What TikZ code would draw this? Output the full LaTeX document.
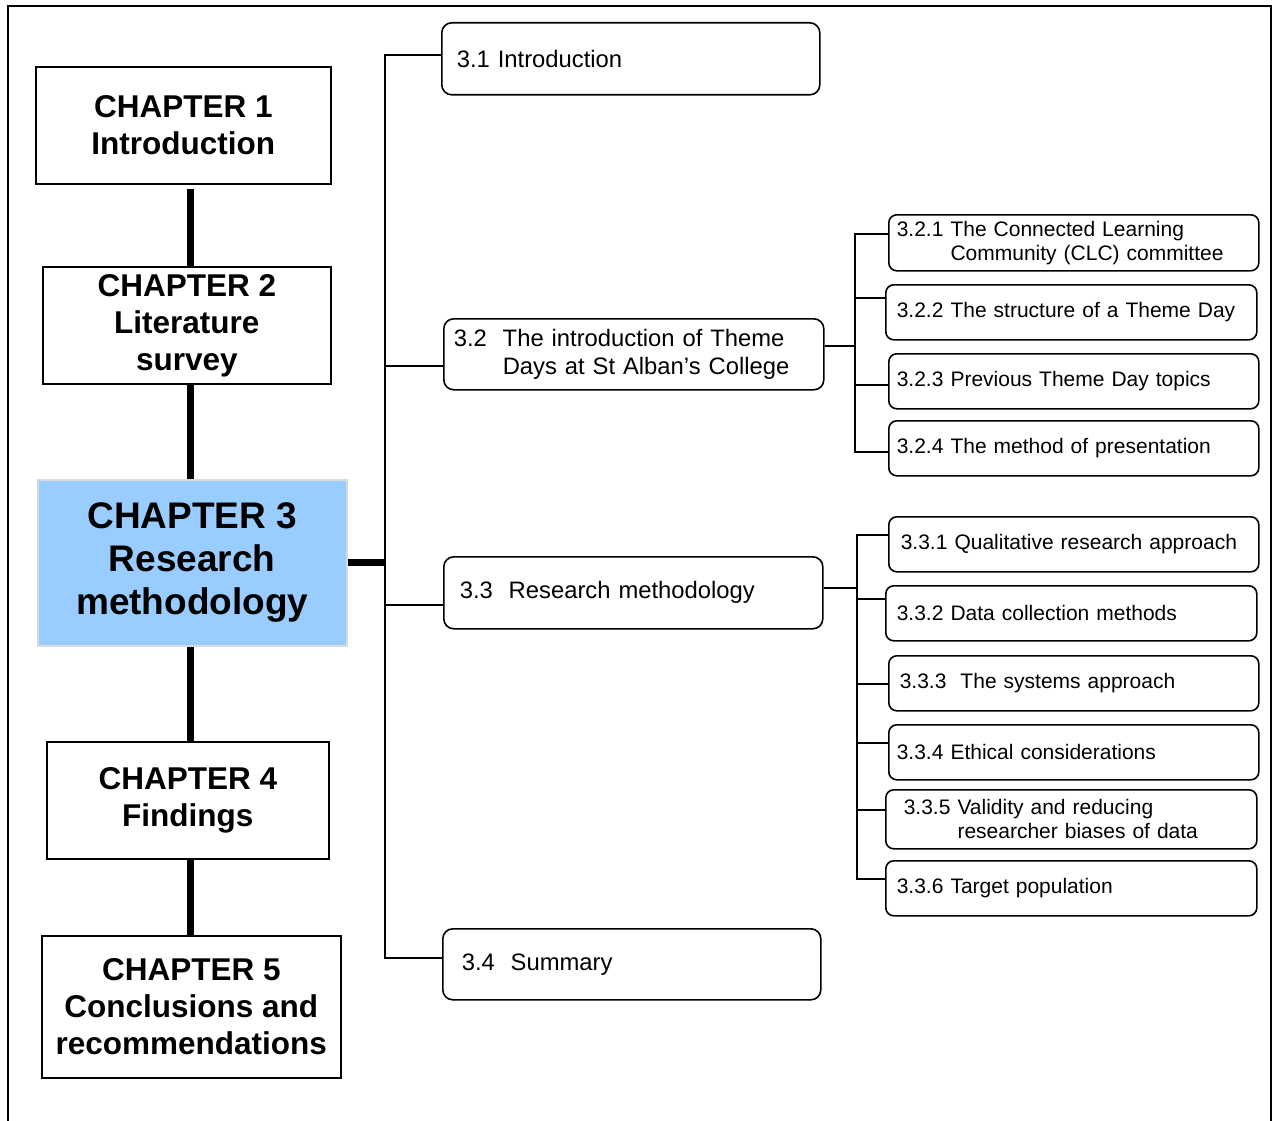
\documentclass[tikz,border=0pt]{standalone}
\usepackage{fontspec}
\setmainfont{Liberation Sans}
\usepackage{tikz}
\usetikzlibrary{calc}
\definecolor{chapblue}{RGB}{153,204,255}
\definecolor{chapedge}{RGB}{218,218,218}

\begin{document}
\begin{tikzpicture}[x=1pt,y=1pt,yscale=-1,xscale=1,
  chapbox/.style={draw,line width=1.6,anchor=north west,inner sep=0pt,align=center,
    font=\fontsize{31.5}{37}\selectfont\bfseries},
  secbox/.style={draw,line width=1.6,rounded corners=10,anchor=north west,inner ysep=0pt,
    align=left,font=\fontsize{23.8}{28}\selectfont},
  subbox/.style={draw,line width=1.6,rounded corners=8,anchor=north west,inner ysep=0pt,
    align=left,font=\fontsize{21}{24}\selectfont},
  link/.style={line width=1.6},
  bar/.style={line width=7}]
\useasboundingbox (0,0) rectangle (1275,1121);

%Frame
\draw[line width=1.6] (8,1121) -- (8,6) -- (1271,6) -- (1271,1121);

%Shape: Rectangle (chapters)
\node[chapbox,minimum width=295,minimum height=117] (ch1) at (35,66) {CHAPTER 1\\Introduction};
\node[chapbox,minimum width=288,minimum height=117] (ch2) at (42,266) {CHAPTER 2\\Literature\\survey};
\node[chapbox,minimum width=309,minimum height=166,fill=chapblue,draw=chapedge,
  font=\fontsize{37}{43}\selectfont\bfseries] (ch3) at (37,479) {CHAPTER 3\\Research\\methodology};
\node[chapbox,minimum width=282,minimum height=117] (ch4) at (46,741) {CHAPTER 4\\Findings};
\node[chapbox,minimum width=299,minimum height=142] (ch5) at (41,935) {CHAPTER 5\\Conclusions and\\recommendations};

%Shape: Rounded Rect (sections)
\node[secbox,minimum height=72,inner xsep=15,text width=348] (s31) at (441,22) {3.1 Introduction};
\node[secbox,minimum height=71,inner xsep=10,text width=360] (s32) at (443,318) {3.2\ \ The introduction of Theme\\\hphantom{3.2\ \ }Days at St Alban’s College};
\node[secbox,minimum height=72,inner xsep=16,text width=347] (s33) at (443,556) {3.3\ \ Research methodology};
\node[secbox,minimum height=71,inner xsep=19,text width=340] (s34) at (442,928) {3.4\ \ Summary};

%Shape: Rounded Rect (subsections)
\node[subbox,minimum height=56,inner xsep=8,text width=354] (s321) at (888,214) {3.2.1 The Connected Learning\\\hphantom{3.2.1 }Community (CLC) committee};
\node[subbox,minimum height=55,inner xsep=11,text width=349] (s322) at (885,284) {3.2.2 The structure of a Theme Day};
\node[subbox,minimum height=55,inner xsep=8,text width=354] (s323) at (888,353) {3.2.3 Previous Theme Day topics};
\node[subbox,minimum height=55,inner xsep=8,text width=354] (s324) at (888,420) {3.2.4 The method of presentation};

\node[subbox,minimum height=55,inner xsep=12,text width=346] (s331) at (888,516) {3.3.1 Qualitative research approach};
\node[subbox,minimum height=55,inner xsep=11,text width=349] (s332) at (885,585) {3.3.2 Data collection methods};
\node[subbox,minimum height=55,inner xsep=11,text width=348] (s333) at (888,655) {3.3.3\ \ The systems approach};
\node[subbox,minimum height=55,inner xsep=8,text width=354] (s334) at (888,724) {3.3.4 Ethical considerations};
\node[subbox,minimum height=59,inner xsep=18,text width=335] (s335) at (885,789) {3.3.5 Validity and reducing\\\hphantom{3.3.5 }researcher biases of data};
\node[subbox,minimum height=55,inner xsep=11,text width=349] (s336) at (885,860) {3.3.6 Target population};

%Coordinates of the lines
\coordinate (spine) at (190,0);
\coordinate (trunk) at (385,0);
\coordinate (fork2) at (855,0);
\coordinate (fork3) at (857,0);
\coordinate (j31) at ($(s31.west)+(0,-4)$);
\coordinate (j32) at ($(s32.west)+(0,11.5)$);
\coordinate (j33) at ($(s33.west)+(0,12)$);
\coordinate (j34) at ($(s34.west)+(0,-6.5)$);
\coordinate (k32) at ($(s32.east)+(0,-8.5)$);
\coordinate (k33) at ($(s33.east)+(0,-5)$);
\coordinate (j321) at ($(s321.west)+(0,-9)$);
\coordinate (j322) at ($(s322.west)+(0,-14.5)$);
\coordinate (j323) at ($(s323.west)+(0,3.5)$);
\coordinate (j324) at ($(s324.west)+(0,3.5)$);
\coordinate (j331) at ($(s331.west)+(0,-9.5)$);
\coordinate (j332) at ($(s332.west)+(0,-14.5)$);
\coordinate (j333) at ($(s333.west)+(0,0.5)$);
\coordinate (j334) at ($(s334.west)+(0,-9.5)$);
\coordinate (j335) at ($(s335.west)+(0,-9.5)$);
\coordinate (j336) at ($(s336.west)+(0,-9.5)$);

%Thick Lines
\draw[bar] ($(ch1.south -| spine)+(0,4)$) -- (ch2.north -| spine);
\draw[bar] (ch2.south -| spine) -- (ch3.north -| spine);
\draw[bar] (ch3.south -| spine) -- (ch4.north -| spine);
\draw[bar] (ch4.south -| spine) -- (ch5.north -| spine);
\draw[bar] (ch3.east) -- (ch3.east -| trunk);

%Straight Lines
\draw[link] (j31) -- (j31 -| trunk) -- (j34 -| trunk) -- (j34);
\draw[link] (j32) -- (j32 -| trunk);
\draw[link] (j33) -- (j33 -| trunk);

\draw[link] (k32) -- (k32 -| fork2);
\draw[link] (j321) -- (j321 -| fork2) -- (j324 -| fork2) -- (j324);
\draw[link] (j322) -- (j322 -| fork2);
\draw[link] (j323) -- (j323 -| fork2);

\draw[link] (k33) -- (k33 -| fork3);
\draw[link] (j331) -- (j331 -| fork3) -- (j336 -| fork3) -- (j336);
\draw[link] (j332) -- (j332 -| fork3);
\draw[link] (j333) -- (j333 -| fork3);
\draw[link] (j334) -- (j334 -| fork3);
\draw[link] (j335) -- (j335 -| fork3);

\end{tikzpicture}
\end{document}
